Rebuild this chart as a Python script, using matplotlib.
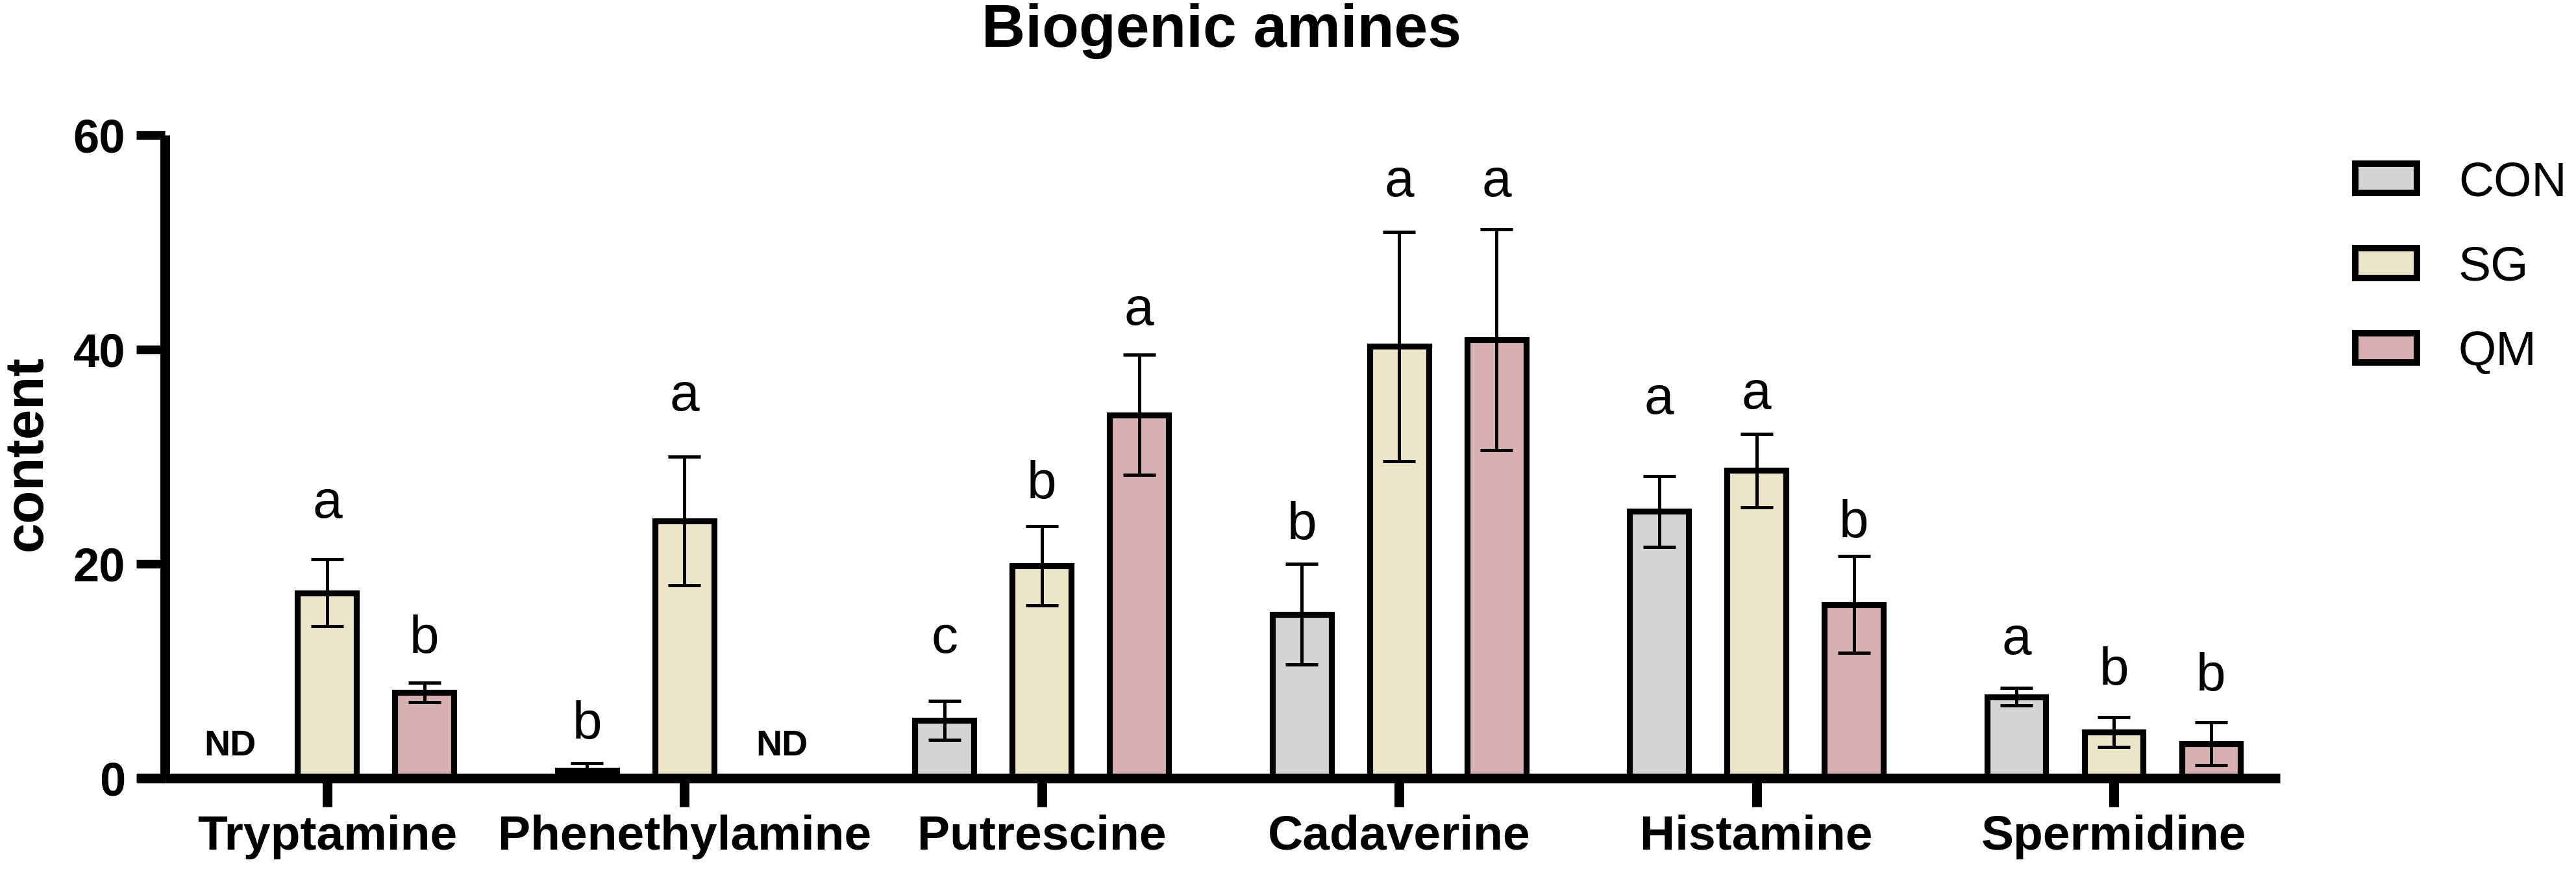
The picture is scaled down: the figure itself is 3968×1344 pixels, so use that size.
import matplotlib
matplotlib.use("Agg")
import matplotlib.pyplot as plt
import numpy as np

plt.rcParams['font.family'] = ['Liberation Sans', 'DejaVu Sans']

categories = ["Tryptamine", "Phenethylamine", "Putrescine", "Cadaverine", "Histamine", "Spermidine"]
groups = ["CON", "SG", "QM"]

con_mean = [np.nan, 0.7, 5.4, 15.3, 24.9, 7.6]
con_err = [np.nan, 0.7, 1.8, 4.7, 3.3, 0.8]
sg_mean = [17.3, 24.0, 19.8, 40.3, 28.7, 4.3]
sg_err = [3.1, 6.0, 3.7, 10.7, 3.4, 1.4]
qm_mean = [8.0, np.nan, 33.9, 40.9, 16.2, 3.2]
qm_err = [0.9, np.nan, 5.6, 10.3, 4.5, 2.0]

con_letters = ["ND", "b", "c", "b", "a", "a"]
sg_letters = ["a", "a", "b", "a", "a", "b"]
qm_letters = ["b", "ND", "a", "a", "b", "b"]

# gap between the top of the error bar and the letter baseline (annotation offsets)
con_gap = [0, 2.3, 4.5, 2.3, 5.8, 3.2]
sg_gap = [3.9, 4.3, 2.6, 3.3, 2.4, 3.0]
qm_gap = [2.8, 0, 2.8, 3.1, 1.8, 3.0]

colors = ["#d4d4d4", "#ebe4c6", "#d9b0b1"]
yticks = [0, 20, 40, 60]

W, H = 3968, 1344
dpi = 200
fig = plt.figure(figsize=(W / dpi, H / dpi), dpi=dpi)
left, right, bottom, top = 254, 3512, 1198, 208
ax = fig.add_axes([left / W, 1 - bottom / H, (right - left) / W, (bottom - top) / H])

x = np.arange(len(categories))
offset = 0.2725
width = 0.165
means = [con_mean, sg_mean, qm_mean]
errs = [con_err, sg_err, qm_err]
letters = [con_letters, sg_letters, qm_letters]
gaps = [con_gap, sg_gap, qm_gap]

for i, g in enumerate(groups):
    xs = x + (i - 1) * offset
    m = np.array(means[i], dtype=float)
    e = np.array(errs[i], dtype=float)
    ax.bar(xs, np.nan_to_num(m), width=width, color=colors[i], edgecolor="black",
           linewidth=3.3, label=g, zorder=2)
    ax.errorbar(xs, m, yerr=e, fmt="none", ecolor="black", elinewidth=1.8,
                capsize=9, capthick=1.8, zorder=3)
    for j, lab in enumerate(letters[i]):
        if lab == "ND":
            ax.text(xs[j], 2.1, "ND", ha="center", va="baseline", fontsize=20,
                    fontweight="bold")
        else:
            ax.text(xs[j], m[j] + e[j] + gaps[i][j], lab, ha="center",
                    va="baseline", fontsize=29.5)

xmin, xmax = -0.454, 5.465
ax.set_xlim(xmin, xmax)
ax.set_ylim(0, 60)
ax.set_yticks(yticks)
ax.set_xticks(x)
ax.set_xticklabels(categories, fontsize=27, fontweight="bold")
ax.tick_params(axis="y", labelsize=26, width=4.8, length=16, pad=6)
ax.tick_params(axis="x", width=5.4, length=16, pad=4)
for lab in ax.get_yticklabels():
    lab.set_fontweight("bold")
for s in ["top", "right"]:
    ax.spines[s].set_visible(False)
for s in ["left", "bottom"]:
    ax.spines[s].set_linewidth(5.4)
    ax.spines[s].set_capstyle("butt")
# x axis line extends left to the end of the y ticks (Prism style)
ax.plot([xmin - 0.078, xmin], [0, 0], color="black", lw=5.4, clip_on=False,
        solid_capstyle="butt")

ax.set_ylabel("content", fontsize=30, fontweight="bold")
ax.yaxis.label.set_va("center")
ax.yaxis.set_label_coords((42 - left) / (right - left), (bottom - 698) / (bottom - top))

fig.text(1882 / W, 1 - 72 / H, "Biogenic amines", ha="center",
         va="baseline", fontsize=33.5, fontweight="bold")

leg = ax.legend(loc="upper left", bbox_to_anchor=(3628 / W, 1 - 247 / H),
                bbox_transform=fig.transFigure, frameon=False, fontsize=27,
                handlelength=1.27, handleheight=0.56, handletextpad=0.85,
                labelspacing=0.82, borderpad=0, borderaxespad=0)
for p in leg.get_patches():
    p.set_linewidth(3.6)

fig.savefig("out.png", dpi=dpi, facecolor="white")
